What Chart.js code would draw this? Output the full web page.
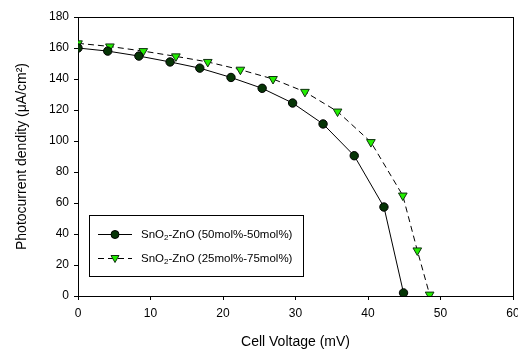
<!DOCTYPE html>
<html>
<head>
<meta charset="utf-8">
<script src="https://cdn.jsdelivr.net/npm/chart.js@4/dist/chart.umd.min.js"></script>
<style>
  html, body { margin: 0; padding: 0; background: #fff; overflow: hidden; }
  #wrap { width: 530px; height: 352px; }
</style>
</head>
<body>
<div id="wrap"><canvas id="myChart" width="530" height="352"></canvas></div>
<script>
const FONT = "'Liberation Sans', Arial, sans-serif";

// data
const voltA = [0, 4.1, 8.4, 12.7, 16.8, 21.1, 25.4, 29.6, 33.8, 38.1, 42.2, 44.9];
const currA = [160, 158, 154.8, 151, 147, 141, 134, 124.5, 111, 90.5, 57.4, 2];
const voltB = [0, 4.4, 9.0, 13.5, 17.9, 22.4, 26.9, 31.3, 35.8, 40.4, 44.8, 46.8, 48.5];
const currB = [163, 161, 158, 154.6, 151, 146, 140, 131.7, 119, 99.3, 64.8, 29.4, 0.9];
const labels = ['SnO|2|-ZnO (50mol%-50mol%)', 'SnO|2|-ZnO (25mol%-75mol%)'];
const xTicks = [0, 10, 20, 30, 40, 50, 60];
const yTicks = [0, 20, 40, 60, 80, 100, 120, 140, 160, 180];

const toXY = (xs, ys) => xs.map((x, i) => ({ x: x, y: ys[i] }));

// frame round the plot area + legend box inside it
const overlay = {
    id: 'overlay',
    afterDraw(chart) {
        const { ctx, chartArea: a } = chart;
        const L = Math.round(a.left), T = Math.round(a.top), R = Math.round(a.right), B = Math.round(a.bottom);
        ctx.save();
        ctx.fillStyle = '#000';
        ctx.fillRect(L, T, R - L + 1, 1);
        ctx.fillRect(R, T, 1, B - T + 1);

        ctx.strokeStyle = '#000';
        ctx.lineWidth = 1;
        const x0 = 89, y0 = 215, w = 214, h = 61;
        ctx.fillStyle = '#fff';
        ctx.fillRect(x0, y0, w, h);
        ctx.strokeRect(x0 + 0.5, y0 + 0.5, w, h);
        const rows = [234, 258];
        chart.data.datasets.forEach((ds, i) => {
            const y = rows[i] + 0.5;
            ctx.strokeStyle = '#000';
            ctx.lineWidth = 1;
            ctx.setLineDash(ds.borderDash || []);
            ctx.beginPath();
            ctx.moveTo(98, y); ctx.lineTo(132, y);
            ctx.stroke();
            ctx.setLineDash([]);
            ctx.fillStyle = ds.pointBackgroundColor;
            ctx.strokeStyle = ds.pointBorderColor;
            if (ds.pointStyle === 'circle') {
                ctx.beginPath(); ctx.arc(115, y, 4, 0, Math.PI * 2); ctx.fill(); ctx.stroke();
            } else {
                ctx.beginPath();
                ctx.moveTo(111, y - 3); ctx.lineTo(119, y - 3); ctx.lineTo(115, y + 4); ctx.closePath();
                ctx.fill(); ctx.stroke();
            }
            const parts = labels[i].split('|');
            let tx = 141;
            ctx.fillStyle = '#000';
            ctx.textBaseline = 'middle';
            ctx.font = '11.5px ' + FONT;
            ctx.fillText(parts[0], tx, y); tx += ctx.measureText(parts[0]).width;
            ctx.font = '8px ' + FONT;
            ctx.fillText(parts[1], tx, y + 3); tx += ctx.measureText(parts[1]).width;
            ctx.font = '11.5px ' + FONT;
            ctx.fillText(parts[2], tx, y);
        });
        ctx.restore();
    }
};

new Chart(document.getElementById('myChart'), {
    type: 'scatter',
    data: {
        datasets: [{
            label: labels[0], data: toXY(voltA, currA), showLine: true,
            borderColor: '#000', borderWidth: 1,
            pointStyle: 'circle', pointRadius: 4.2, pointBorderWidth: 1,
            pointBackgroundColor: '#063506', pointBorderColor: '#000'
        }, {
            label: labels[1], data: toXY(voltB, currB), showLine: true,
            borderColor: '#000', borderWidth: 1, borderDash: [6, 4],
            pointStyle: 'triangle', rotation: 180, pointRadius: 5, pointBorderWidth: 1,
            pointBackgroundColor: '#22ee00', pointBorderColor: '#103010'
        }]
    },
    options: {
        responsive: false, animation: false,
        layout: { padding: { top: 17, right: 17, left: 0, bottom: 0 } },
        plugins: { legend: { display: false }, tooltip: { enabled: false } },
        scales: {
            x: {
                type: 'linear', min: 0, max: 60,
                afterBuildTicks: s => { s.ticks = xTicks.map(v => ({ value: v })); },
                afterFit: s => { s.height = 56; },
                grid: { drawOnChartArea: false, tickLength: 4, color: '#000' },
                border: { color: '#000' },
                ticks: { color: '#000', padding: 6, maxRotation: 0, font: { family: FONT, size: 12 } },
                title: { display: true, text: 'Cell Voltage (mV)', color: '#000', padding: { top: 0, bottom: 1 }, font: { family: FONT, size: 14 } }
            },
            y: {
                type: 'linear', min: 0, max: 180,
                afterBuildTicks: s => { s.ticks = yTicks.map(v => ({ value: v })); },
                afterFit: s => { s.width = 78; },
                grid: { drawOnChartArea: false, tickLength: 4, color: '#000' },
                border: { color: '#000' },
                ticks: { color: '#000', padding: 5, font: { family: FONT, size: 12 } },
                title: { display: true, text: 'Photocurrent dendity (μA/cm²)', color: '#000', padding: { top: 14, bottom: 0 }, font: { family: FONT, size: 14 } }
            }
        }
    },
    plugins: [overlay]
});
</script>
</body>
</html>
